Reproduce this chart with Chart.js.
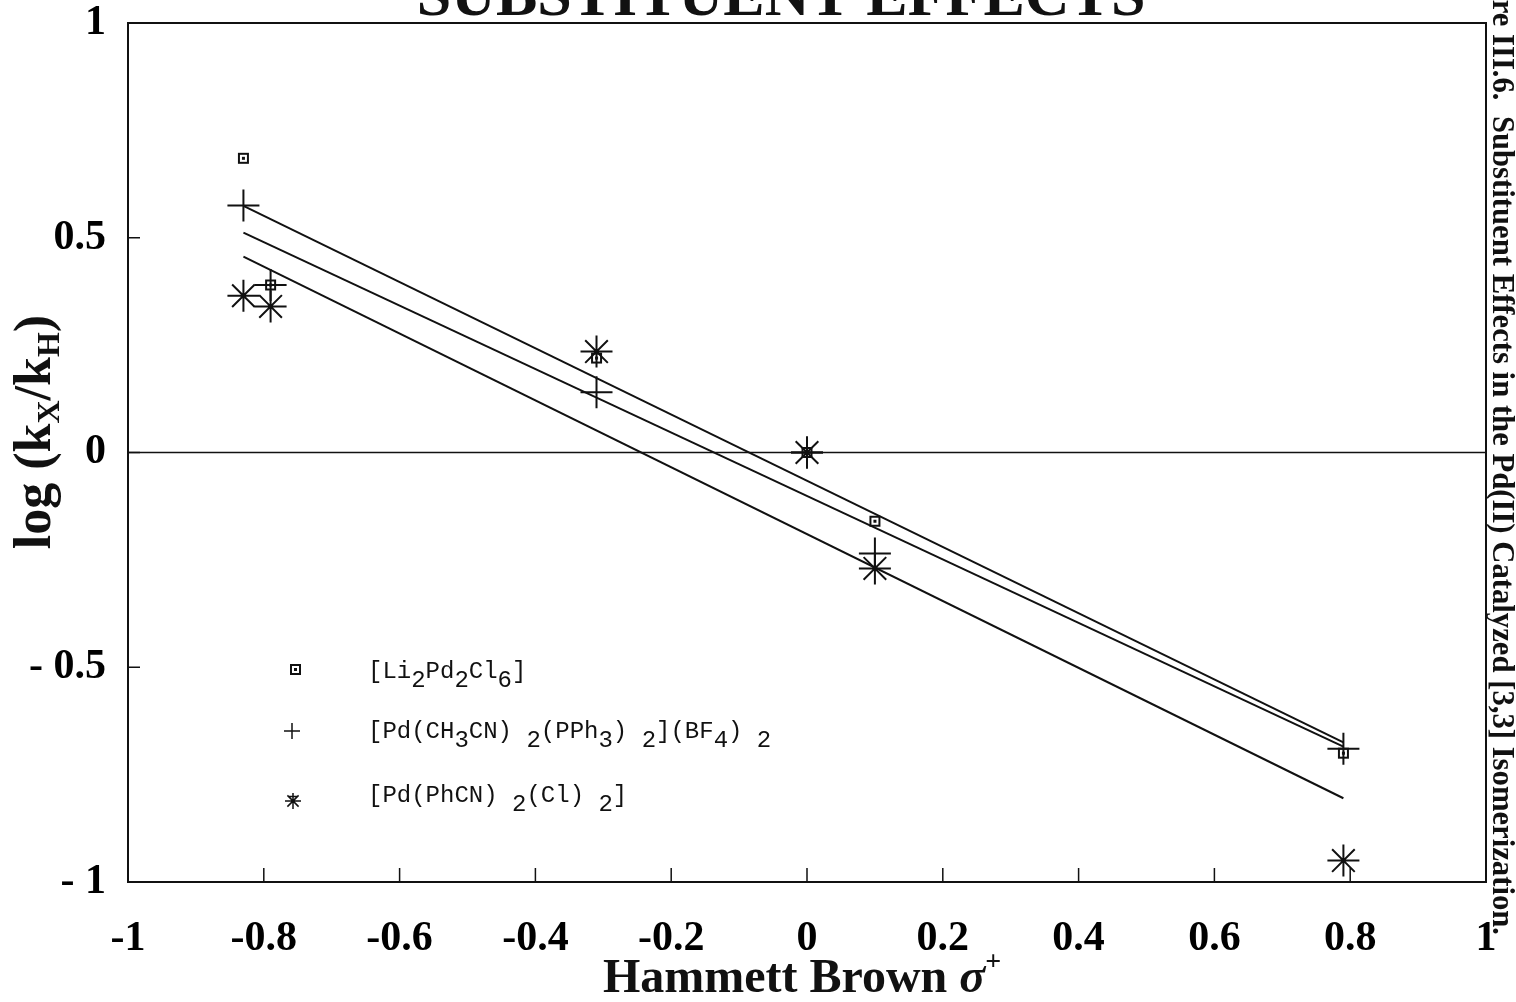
<!DOCTYPE html>
<html>
<head>
<meta charset="utf-8">
<script src="https://cdn.jsdelivr.net/npm/chart.js@4"></script>
<style>
  body { margin: 0; background: #fff; }
  #wrap { width: 1516px; height: 1002px; position: relative; }
</style>
</head>
<body>
<div id="wrap"><canvas id="myChart"></canvas></div>
<script>
// values (sigma+ , log(kX/kH))
const sigmaLi = [-0.83, -0.79, -0.31, 0, 0.10, 0.79];
const logLi = [0.685, 0.39, 0.22, 0, -0.16, -0.70];
const sigmaPPh = [-0.83, -0.79, -0.31, 0, 0.10, 0.79];
const logPPh = [0.575, 0.39, 0.14, 0, -0.235, -0.69];
const sigmaPhCN = [-0.83, -0.79, -0.31, 0, 0.10, 0.79];
const logPhCN = [0.365, 0.34, 0.235, 0, -0.27, -0.95];

// fitted lines, end points
const fitX = [-0.83, 0.79];
const fitPPh = [0.574, -0.675];
const fitLi = [0.512, -0.685];
const fitPhCN = [0.456, -0.805];
const zeroX = [-1, 1];
const zeroY = [0, 0];

const xTickLabels = ['-1', '-0.8', '-0.6', '-0.4', '-0.2', '0', '0.2', '0.4', '0.6', '0.8', '1'];
const yTickLabels = ['- 1', '- 0.5', '0', '0.5', '1'];

const ink = '#111';
const toPts = (xs, ys) => xs.map((v, i) => ({ x: v, y: ys[i] }));

// small square marker with a dot, like the plotter's
const sq = document.createElement('canvas');
sq.width = 13; sq.height = 13;
(function () {
  const g = sq.getContext('2d');
  g.strokeStyle = ink; g.lineWidth = 2;
  g.strokeRect(2, 2, 9, 9);
  g.fillStyle = ink; g.fillRect(5, 5, 3, 3);
})();

function drawRich(ctx, parts, x, y) {
  let total = 0;
  parts.forEach(p => { ctx.font = p.font; total += ctx.measureText(p.t).width; });
  let cx = x - total / 2;
  ctx.textAlign = 'left';
  ctx.textBaseline = 'alphabetic';
  parts.forEach(p => {
    ctx.font = p.font;
    ctx.fillText(p.t, cx, y + (p.dy || 0));
    cx += ctx.measureText(p.t).width;
  });
}

function drawMono(ctx, parts, x, y) {
  ctx.font = '24px "Liberation Mono"';
  ctx.textAlign = 'left';
  ctx.textBaseline = 'alphabetic';
  let cx = x;
  parts.forEach(p => {
    const sub = p[1];
    ctx.fillText(p[0], cx, y + (sub ? 9 : 0));
    cx += ctx.measureText(p[0]).width;
  });
}

function marker(ctx, kind, x, y, r) {
  ctx.beginPath();
  if (kind === 'plus' || kind === 'starplus') {
    ctx.moveTo(x - r, y); ctx.lineTo(x + r, y);
    ctx.moveTo(x, y - r); ctx.lineTo(x, y + r);
  }
  if (kind === 'starplus') {
    const d = r * 0.7;
    ctx.moveTo(x - d, y - d); ctx.lineTo(x + d, y + d);
    ctx.moveTo(x - d, y + d); ctx.lineTo(x + d, y - d);
    ctx.moveTo(x - r * 0.6, y - r * 0.55); ctx.lineTo(x + r * 0.6, y - r * 0.55);
  }
  ctx.stroke();
}

const decor = {
  id: 'decor',
  afterDraw(chart) {
    const { ctx, chartArea: a, scales: { x, y } } = chart;
    ctx.save();
    ctx.strokeStyle = ink;
    ctx.fillStyle = ink;
    ctx.lineWidth = 2;

    // frame top and right
    ctx.beginPath();
    ctx.moveTo(a.left, a.top); ctx.lineTo(a.right, a.top); ctx.lineTo(a.right, a.bottom);
    ctx.stroke();

    // inward ticks
    ctx.lineWidth = 1.5;
    ctx.beginPath();
    x.ticks.forEach(t => {
      const px = x.getPixelForValue(t.value);
      ctx.moveTo(px, a.bottom); ctx.lineTo(px, a.bottom - 14);
    });
    y.ticks.forEach(t => {
      if (t.value <= -1 || t.value >= 1) return;
      const py = y.getPixelForValue(t.value);
      ctx.moveTo(a.left, py); ctx.lineTo(a.left + 12, py);
    });
    ctx.stroke();

    // cut-off title at the very top
    ctx.font = 'bold 62px "Liberation Serif"';
    ctx.textAlign = 'center';
    ctx.textBaseline = 'alphabetic';
    ctx.fillText('SUBSTITUENT EFFECTS', 781, 15);

    // x axis title
    drawRich(ctx, [
      { t: 'Hammett Brown ', font: 'bold 48px "Liberation Serif"' },
      { t: 'σ', font: 'italic bold 48px "Liberation Serif"' },
      { t: '+', font: 'bold 28px "Liberation Serif"', dy: -22 }
    ], 802, 992);

    // y axis title
    ctx.save();
    ctx.translate(50, 432);
    ctx.rotate(-Math.PI / 2);
    drawRich(ctx, [
      { t: 'log (k', font: 'bold 52px "Liberation Serif"' },
      { t: 'X', font: 'bold 32px "Liberation Serif"', dy: 9 },
      { t: '/k', font: 'bold 52px "Liberation Serif"' },
      { t: 'H', font: 'bold 32px "Liberation Serif"', dy: 9 },
      { t: ')', font: 'bold 52px "Liberation Serif"' }
    ], 0, 0);
    ctx.restore();

    // caption running down the right edge (partly off the page)
    const cap = 'Figure III.6.  Substituent Effects in the Pd(II) Catalyzed [3,3] Isomerization.';
    const seen = 're III.6.  Substituent Effects in the Pd(II) Catalyzed [3,3] Isomerization.';
    ctx.font = 'bold 26px "Liberation Serif"';
    const fs = 26 * 935 / ctx.measureText(seen).width;
    ctx.save();
    ctx.translate(1501, 935);
    ctx.rotate(Math.PI / 2);
    ctx.font = 'bold ' + fs.toFixed(1) + 'px "Liberation Serif"';
    ctx.textAlign = 'right';
    ctx.textBaseline = 'middle';
    ctx.fillText(cap, 0, 0);
    ctx.restore();

    // legend
    ctx.lineWidth = 1.5;
    ctx.drawImage(sq, 289, 663);
    marker(ctx, 'plus', 292, 731, 8);
    marker(ctx, 'starplus', 293, 801, 8);
    drawMono(ctx, [['[Li'], ['2', 1], ['Pd'], ['2', 1], ['Cl'], ['6', 1], [']']], 368, 678);
    drawMono(ctx, [['[Pd(CH'], ['3', 1], ['CN)'], [' 2', 1], ['(PPh'], ['3', 1], [')'], [' 2', 1], [']'], ['(BF'], ['4', 1], [')'], [' 2', 1]], 368, 738);
    drawMono(ctx, [['[Pd(PhCN)'], [' 2', 1], ['(Cl)'], [' 2', 1], [']']], 368, 802);
    ctx.restore();
  }
};

const tickFont = { family: '"Liberation Serif"', size: 42, weight: 'bold' };

const ctx = document.getElementById('myChart').getContext('2d');
new Chart(ctx, {
  type: 'scatter',
  data: {
    datasets: [
      {
        label: '[Li2Pd2Cl6]',
        data: toPts(sigmaLi, logLi),
        pointStyle: sq,
        pointRadius: 6,
      },
      {
        label: '[Pd(CH3CN)2(PPh3)2](BF4)2',
        data: toPts(sigmaPPh, logPPh),
        pointStyle: 'cross',
        pointRadius: 16,
        borderColor: ink,
        borderWidth: 2,
      },
      {
        label: '[Pd(PhCN)2(Cl)2]',
        data: toPts(sigmaPhCN, logPhCN),
        pointStyle: 'star',
        pointRadius: 16,
        borderColor: ink,
        borderWidth: 2,
      },
      { type: 'line', data: toPts(fitX, fitPPh), borderColor: ink, borderWidth: 2, pointRadius: 0 },
      { type: 'line', data: toPts(fitX, fitLi), borderColor: ink, borderWidth: 2, pointRadius: 0 },
      { type: 'line', data: toPts(fitX, fitPhCN), borderColor: ink, borderWidth: 2, pointRadius: 0 },
      { type: 'line', data: toPts(zeroX, zeroY), borderColor: ink, borderWidth: 1.5, pointRadius: 0 },
    ]
  },
  options: {
    responsive: true,
    maintainAspectRatio: false,
    animation: false,
    events: [],
    layout: { padding: { top: 23, right: 30, left: 0, bottom: 0 } },
    plugins: {
      legend: { display: false },
      tooltip: { enabled: false },
    },
    scales: {
      x: {
        type: 'linear',
        min: -1,
        max: 1,
        grid: { display: false, drawTicks: false },
        border: { display: true, color: ink, width: 2 },
        ticks: {
          stepSize: 0.2,
          padding: 32,
          color: '#000',
          font: tickFont,
          callback: (v) => xTickLabels[Math.round((v + 1) * 5)],
        },
        afterFit: (s) => { s.height = 120; s.paddingLeft = 0; s.paddingRight = 0; },
      },
      y: {
        min: -1,
        max: 1,
        grid: { display: false, drawTicks: false },
        border: { display: true, color: ink, width: 2 },
        ticks: {
          stepSize: 0.5,
          padding: 22,
          color: '#000',
          font: tickFont,
          callback: (v) => yTickLabels[Math.round((v + 1) * 2)],
        },
        afterFit: (s) => { s.width = 128; s.paddingTop = 0; s.paddingBottom = 0; },
      }
    }
  },
  plugins: [decor],
});
</script>
</body>
</html>
